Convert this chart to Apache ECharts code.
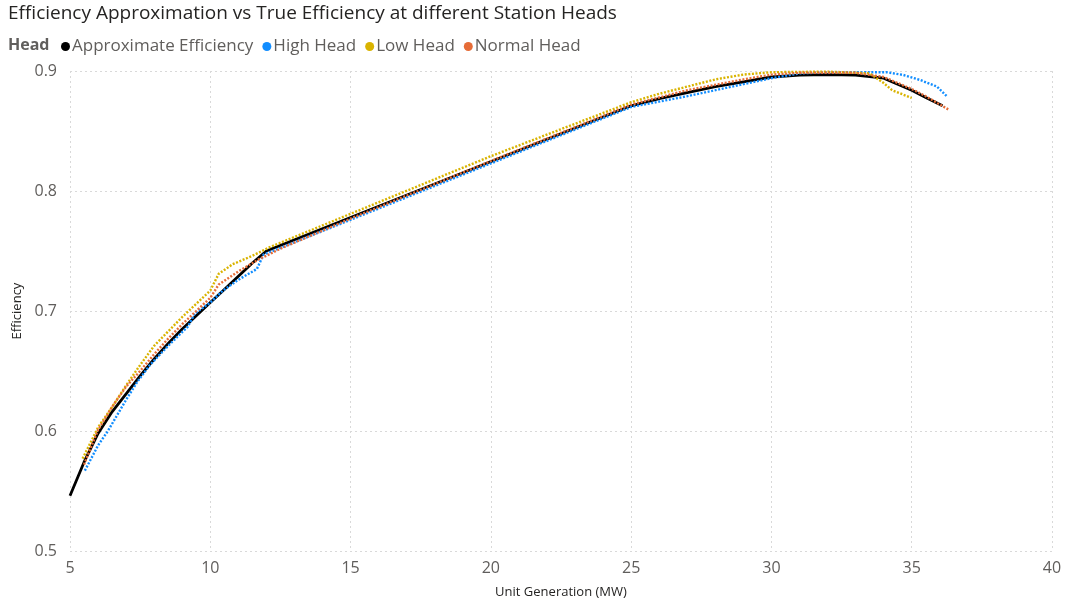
<!DOCTYPE html>
<html>
<head>
<meta charset="utf-8">
<script src="https://cdn.jsdelivr.net/npm/echarts@6/dist/echarts.min.js"></script>
<style>
  html, body { margin: 0; padding: 0; background: #ffffff; }
  #chart { width: 1072px; height: 604px; }
</style>
</head>
<body>
<div id="chart"></div>
<script>
// Unit generation (MW) and efficiency for the piecewise approximation
var approxX = [5.0, 5.5, 6.0, 6.5, 7.0, 7.5, 8.0, 8.5, 9.0, 9.5, 10.0, 10.5, 11.0, 11.5, 12.0,
               25.0, 26.0, 27.0, 28.0, 29.0, 30.0, 31.0, 32.0, 33.0, 34.0, 34.5, 35.0, 35.5, 36.1];
var approxY = [0.546, 0.574, 0.598, 0.616, 0.631, 0.646, 0.660, 0.673, 0.685, 0.696, 0.707, 0.718, 0.729, 0.740, 0.750,
               0.871, 0.877, 0.882, 0.887, 0.891, 0.895, 0.8965, 0.897, 0.8965, 0.894, 0.889, 0.884, 0.878, 0.871];

// True efficiency, high station head
var highX = [5.53, 6.0, 6.35, 7.0, 7.4, 7.85, 8.5, 9.2, 9.45, 10.0, 10.45, 11.0, 11.66, 11.9,
             15.0, 20.0, 25.0, 27.0, 29.0, 30.0, 31.0, 32.0, 34.1, 34.7, 35.3, 35.9, 36.25];
var highY = [0.567, 0.588, 0.600, 0.626, 0.641, 0.655, 0.671, 0.687, 0.698, 0.707, 0.717, 0.726, 0.735, 0.747,
             0.776, 0.823, 0.870, 0.879, 0.889, 0.894, 0.898, 0.899, 0.899, 0.8967, 0.8925, 0.887, 0.879];

// True efficiency, low station head
var lowX = [5.45, 6.0, 6.5, 7.0, 7.5, 8.0, 8.5, 9.0, 9.5, 10.0, 10.3, 10.8, 11.5, 12.1,
            15.0, 20.0, 25.0, 26.0, 27.0, 28.0, 29.0, 30.0, 32.0, 33.5, 34.0, 34.3, 35.0];
var lowY = [0.577, 0.603, 0.620, 0.638, 0.655, 0.671, 0.683, 0.695, 0.706, 0.717, 0.731, 0.739, 0.746, 0.753,
            0.781, 0.829, 0.874, 0.881, 0.887, 0.893, 0.897, 0.899, 0.8995, 0.898, 0.890, 0.884, 0.8775];

// True efficiency, normal station head
var normalX = [5.5, 6.0, 6.5, 7.0, 7.5, 8.0, 8.5, 9.0, 9.5, 10.0, 10.3, 11.0, 11.8, 12.0, 12.5,
               15.0, 20.0, 25.0, 27.0, 29.0, 30.0, 31.0, 33.0, 34.0, 35.0, 35.5, 36.3];
var normalY = [0.572, 0.601, 0.620, 0.637, 0.650, 0.664, 0.677, 0.689, 0.700, 0.711, 0.722, 0.733, 0.744, 0.746, 0.752,
               0.777, 0.825, 0.872, 0.884, 0.893, 0.897, 0.8985, 0.8985, 0.895, 0.885, 0.879, 0.868];

var seriesNames = ['Approximate Efficiency', 'High Head', 'Low Head', 'Normal Head'];
var seriesColors = ['#000000', '#118DFF', '#D9B300', '#E66C37'];

var xTicks = { min: 5, max: 40, interval: 5 };
var yTicks = { min: 0.5, max: 0.9, interval: 0.1 };

function pairs(xs, ys) {
  return xs.map(function (x, i) { return [x, ys[i]]; });
}

var FONT = '"Open Sans", Lato, sans-serif';
var gridLine = { show: true, lineStyle: { color: '#d9d9d9', type: [2, 3], width: 1 } };

var chart = echarts.init(document.getElementById('chart'), null, { renderer: 'canvas' });

chart.setOption({
  animation: false,
  backgroundColor: '#ffffff',
  textStyle: { fontFamily: FONT },
  title: [
    {
      text: 'Efficiency Approximation vs True Efficiency at different Station Heads',
      left: 3, top: -1,
      textStyle: { fontFamily: FONT, fontSize: 19, fontWeight: 'normal', color: '#252423' }
    },
    {
      text: 'Head',
      left: 3, top: 32,
      textStyle: { fontFamily: FONT, fontSize: 16, fontWeight: 'bold', color: '#605E5C' }
    }
  ],
  legend: {
    left: 56, top: 33,
    icon: 'circle',
    itemWidth: 9, itemHeight: 9,
    itemGap: 9,
    textStyle: { fontFamily: FONT, fontSize: 17, color: '#605E5C', padding: [0, 0, 0, -3] },
    data: seriesNames
  },
  grid: { left: 70, right: 20, top: 71, bottom: 53, containLabel: false },
  xAxis: {
    type: 'value',
    min: xTicks.min, max: xTicks.max, interval: xTicks.interval,
    name: 'Unit Generation (MW)',
    nameLocation: 'middle', nameGap: 35,
    nameTextStyle: { fontFamily: FONT, fontSize: 13, color: '#252423' },
    axisLine: { show: false }, axisTick: { show: false },
    axisLabel: { fontFamily: FONT, fontSize: 16, color: '#605E5C', margin: 9 },
    splitLine: gridLine
  },
  yAxis: {
    type: 'value',
    min: yTicks.min, max: yTicks.max, interval: yTicks.interval,
    name: 'Efficiency',
    nameLocation: 'middle', nameGap: 45,
    nameTextStyle: { fontFamily: FONT, fontSize: 13, color: '#252423' },
    axisLine: { show: false }, axisTick: { show: false },
    axisLabel: {
      fontFamily: FONT, fontSize: 16, color: '#605E5C', margin: 13,
      formatter: function (v) { return v.toFixed(1); }
    },
    splitLine: gridLine
  },
  series: [
    {
      name: seriesNames[0], type: 'line', data: pairs(approxX, approxY),
      showSymbol: false, color: seriesColors[0],
      lineStyle: { width: 2.8, color: seriesColors[0] }, z: 2
    },
    {
      name: seriesNames[1], type: 'line', data: pairs(highX, highY),
      showSymbol: false, color: seriesColors[1],
      lineStyle: { width: 2.4, type: [2, 1.6], color: seriesColors[1] }, z: 3
    },
    {
      name: seriesNames[2], type: 'line', data: pairs(lowX, lowY),
      showSymbol: false, color: seriesColors[2],
      lineStyle: { width: 2.4, type: [2, 1.6], color: seriesColors[2] }, z: 3
    },
    {
      name: seriesNames[3], type: 'line', data: pairs(normalX, normalY),
      showSymbol: false, color: seriesColors[3],
      lineStyle: { width: 2.4, type: [2, 1.6], color: seriesColors[3] }, z: 3
    }
  ]
});
</script>
</body>
</html>
